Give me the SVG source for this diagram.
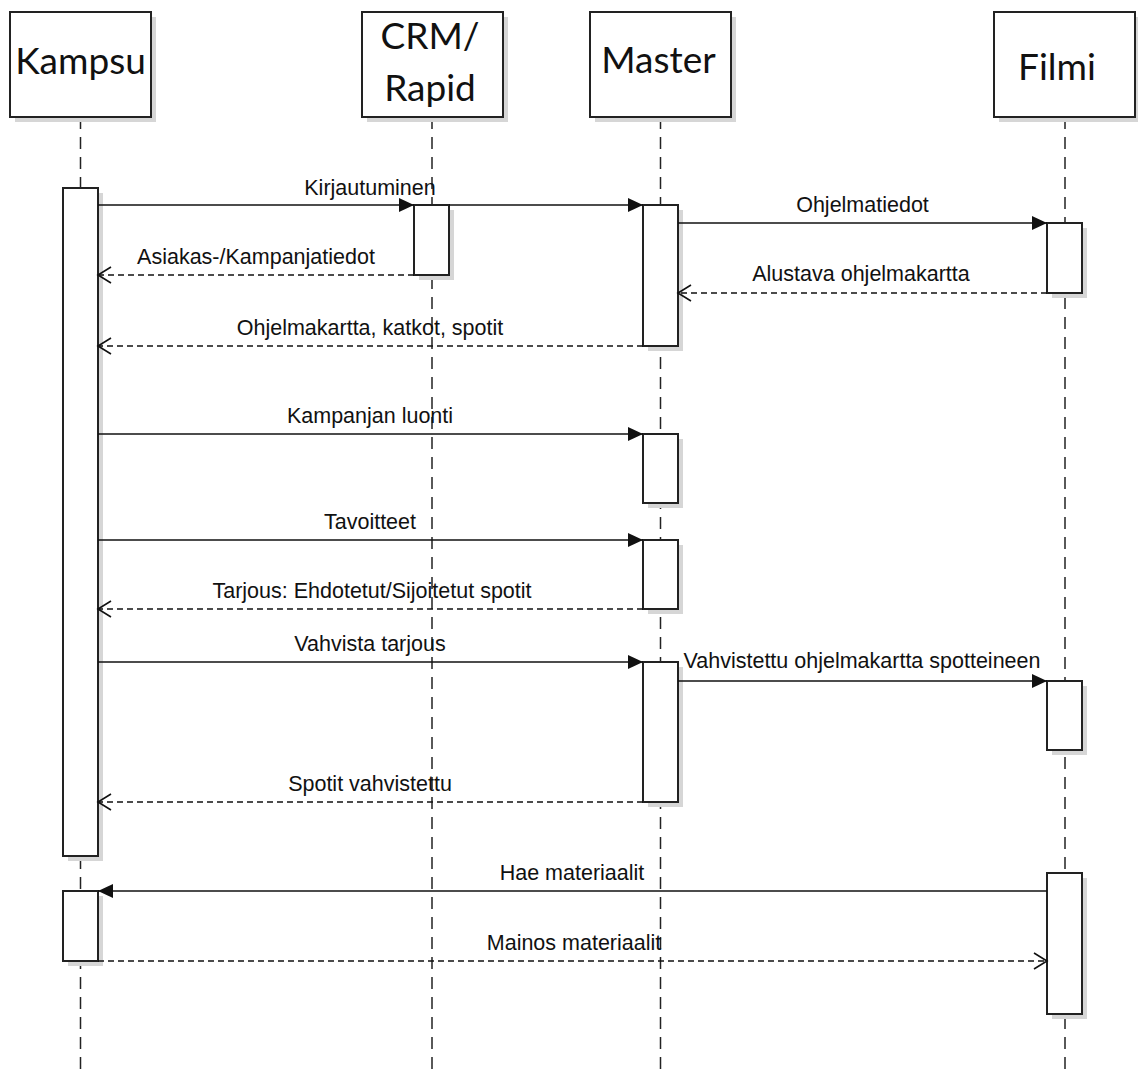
<svg xmlns="http://www.w3.org/2000/svg" width="1138" height="1075" viewBox="0 0 1138 1075">
<style>
.bg{fill:#ffffff}
.shadow{fill:#d6d6d6;stroke:none}
.box{fill:#ffffff;stroke:#222222;stroke-width:2}
.bar{fill:#ffffff;stroke:#222222;stroke-width:2}
.life{stroke:#222222;stroke-width:1.5;stroke-dasharray:12 8;fill:none}
.msg{stroke:#111111;stroke-width:1.5;fill:none}
.ret{stroke:#111111;stroke-width:1.5;fill:none;stroke-dasharray:6 4}
.title{font-family:Lato,"Open Sans",sans-serif;font-size:37px;fill:#111111;text-anchor:middle}
.lbl{font-family:"Liberation Sans",Arial,sans-serif;font-size:21.5px;fill:#111111;text-anchor:middle}
</style>
<defs>
<marker id="filled" markerUnits="userSpaceOnUse" markerWidth="16" markerHeight="16" refX="15" refY="7" orient="auto" overflow="visible">
<path d="M0,0 L15,7 L0,14 z" fill="#111111"/>
</marker>
<marker id="open" markerUnits="userSpaceOnUse" markerWidth="16" markerHeight="18" refX="13" refY="8" orient="auto" overflow="visible">
<path d="M0,0 L13,8 L0,16" fill="none" stroke="#111111" stroke-width="1.6"/>
</marker>
</defs>
<rect class="bg" x="0" y="0" width="1138" height="1075"/>

<g id="kampsu">
<line class="life" x1="80.5" y1="117" x2="80.5" y2="1075"/>
<rect class="shadow" x="15" y="17" width="141" height="105"/>
<rect class="box" x="10" y="12" width="141" height="105"/>
<text class="title" x="80.5" y="74">Kampsu</text>
<rect class="shadow" x="68" y="193" width="35" height="668"/>
<rect class="bar" x="63" y="188" width="35" height="668"/>
<rect class="shadow" x="68" y="896" width="35" height="70"/>
<rect class="bar" x="63" y="891" width="35" height="70"/>
</g>

<g id="crm">
<line class="life" x1="432" y1="117" x2="432" y2="1075"/>
<rect class="shadow" x="367" y="17" width="141" height="105"/>
<rect class="box" x="362" y="12" width="141" height="105"/>
<text class="title" x="430" y="49">CRM/</text>
<text class="title" x="430" y="101">Rapid</text>
<rect class="shadow" x="419" y="210" width="35" height="70"/>
<rect class="bar" x="414" y="205" width="35" height="70"/>
</g>

<g id="master">
<line class="life" x1="660.5" y1="117" x2="660.5" y2="1075"/>
<rect class="shadow" x="595" y="17" width="141" height="105"/>
<rect class="box" x="590" y="12" width="141" height="105"/>
<text class="title" x="658.5" y="73">Master</text>
<rect class="shadow" x="648" y="210" width="35" height="141"/>
<rect class="bar" x="643" y="205" width="35" height="141"/>
<rect class="shadow" x="648" y="439" width="35" height="69"/>
<rect class="bar" x="643" y="434" width="35" height="69"/>
<rect class="shadow" x="648" y="545" width="35" height="69"/>
<rect class="bar" x="643" y="540" width="35" height="69"/>
<rect class="shadow" x="648" y="667" width="35" height="140"/>
<rect class="bar" x="643" y="662" width="35" height="140"/>
</g>

<g id="filmi">
<line class="life" x1="1065" y1="117" x2="1065" y2="1075"/>
<rect class="shadow" x="999" y="17" width="141" height="105"/>
<rect class="box" x="994" y="12" width="141" height="105"/>
<text class="title" x="1057" y="80">Filmi</text>
<rect class="shadow" x="1052" y="228" width="35" height="70"/>
<rect class="bar" x="1047" y="223" width="35" height="70"/>
<rect class="shadow" x="1052" y="686" width="35" height="69"/>
<rect class="bar" x="1047" y="681" width="35" height="69"/>
<rect class="shadow" x="1052" y="878" width="35" height="141"/>
<rect class="bar" x="1047" y="873" width="35" height="141"/>
</g>

<g id="connectors">
<line class="msg" x1="98" y1="205" x2="414" y2="205" marker-end="url(#filled)"/>
<line class="msg" x1="449" y1="205" x2="643" y2="205" marker-end="url(#filled)"/>
<text class="lbl" x="370" y="195">Kirjautuminen</text>

<line class="ret" x1="414" y1="275" x2="98" y2="275" marker-end="url(#open)"/>
<text class="lbl" x="256" y="264">Asiakas-/Kampanjatiedot</text>

<line class="msg" x1="678" y1="223" x2="1047" y2="223" marker-end="url(#filled)"/>
<text class="lbl" x="862.5" y="212">Ohjelmatiedot</text>

<line class="ret" x1="1047" y1="293" x2="678" y2="293" marker-end="url(#open)"/>
<text class="lbl" x="861" y="281">Alustava ohjelmakartta</text>

<line class="ret" x1="643" y1="346" x2="98" y2="346" marker-end="url(#open)"/>
<text class="lbl" x="370" y="335">Ohjelmakartta, katkot, spotit</text>

<line class="msg" x1="98" y1="434" x2="643" y2="434" marker-end="url(#filled)"/>
<text class="lbl" x="370" y="423">Kampanjan luonti</text>

<line class="msg" x1="98" y1="540" x2="643" y2="540" marker-end="url(#filled)"/>
<text class="lbl" x="370" y="529">Tavoitteet</text>

<line class="ret" x1="643" y1="609" x2="98" y2="609" marker-end="url(#open)"/>
<text class="lbl" x="372" y="598">Tarjous: Ehdotetut/Sijoitetut spotit</text>

<line class="msg" x1="98" y1="662" x2="643" y2="662" marker-end="url(#filled)"/>
<text class="lbl" x="370" y="651">Vahvista tarjous</text>

<line class="msg" x1="678" y1="681" x2="1047" y2="681" marker-end="url(#filled)"/>
<text class="lbl" x="862" y="668">Vahvistettu ohjelmakartta spotteineen</text>

<line class="ret" x1="643" y1="802" x2="98" y2="802" marker-end="url(#open)"/>
<text class="lbl" x="370" y="791">Spotit vahvistettu</text>

<line class="msg" x1="1047" y1="891" x2="98" y2="891" marker-end="url(#filled)"/>
<text class="lbl" x="572" y="880">Hae materiaalit</text>

<line class="ret" x1="98" y1="961" x2="1047" y2="961" marker-end="url(#open)"/>
<text class="lbl" x="574" y="950">Mainos materiaalit</text>
</g>
</svg>
